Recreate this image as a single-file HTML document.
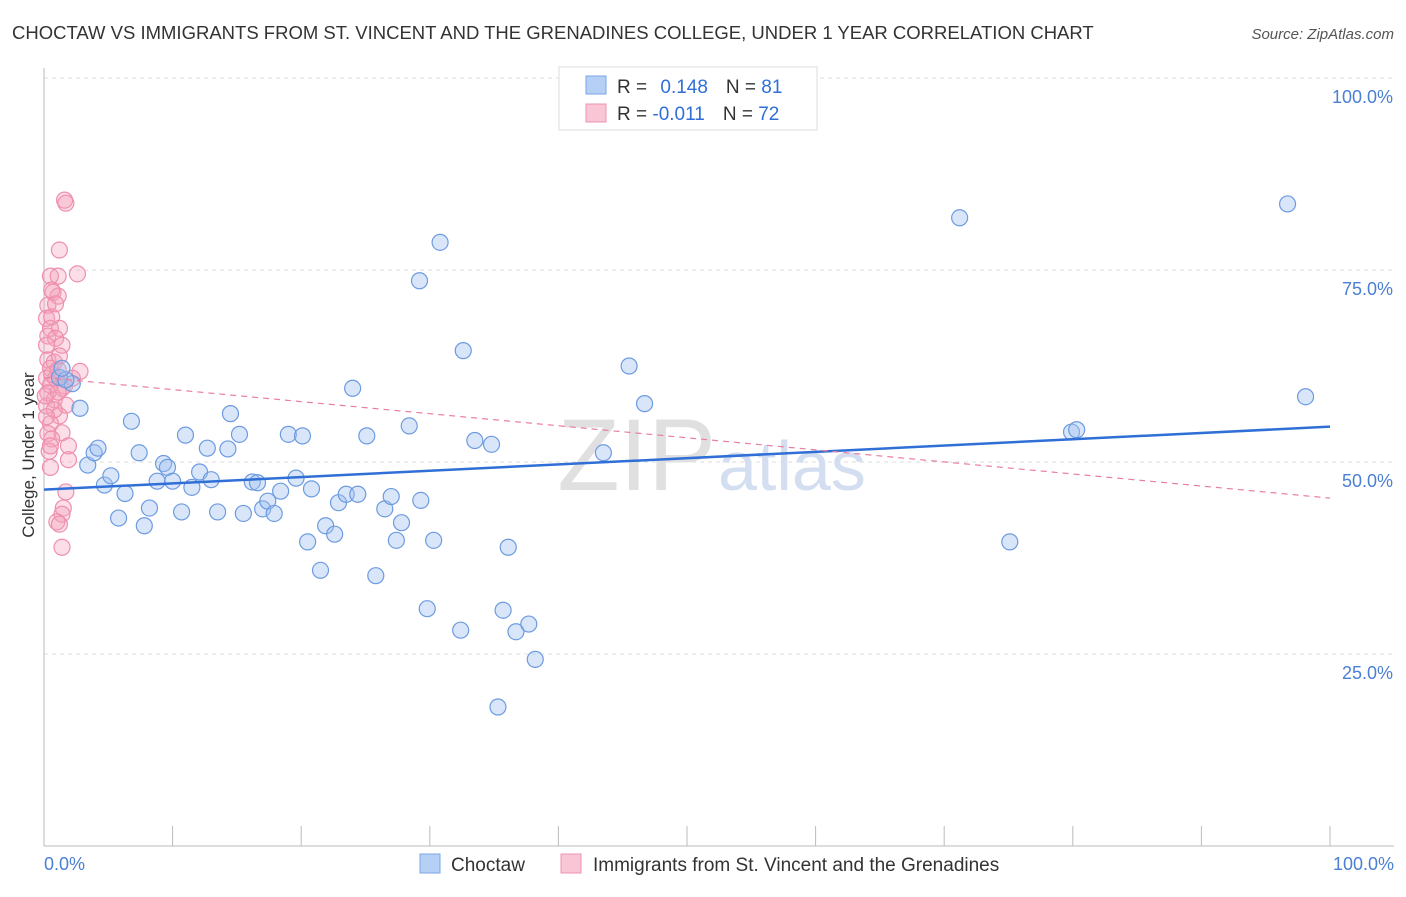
<!DOCTYPE html>
<html><head><meta charset="utf-8"><style>
body{margin:0;background:#fff;font-family:"Liberation Sans",sans-serif;}
svg text{font-family:"Liberation Sans",sans-serif;}
</style></head><body>
<svg id="c" width="1406" height="892">
<text x="12" y="39" font-size="18.5" fill="#333">CHOCTAW VS IMMIGRANTS FROM ST. VINCENT AND THE GRENADINES COLLEGE, UNDER 1 YEAR CORRELATION CHART</text>
<text x="1394" y="39" font-size="15" fill="#555" text-anchor="end" font-style="italic">Source: ZipAtlas.com</text>
<text transform="translate(34,455) rotate(-90)" font-size="17" fill="#333" text-anchor="middle">College, Under 1 year</text>
<g id="grid"></g>
<text x="716" y="490" font-size="102" fill="#e0e0e0" text-anchor="end" font-family="Liberation Serif">ZIP</text>
<text x="718" y="490" font-size="70" fill="#d3def1">atlas</text>
<g id="pts"></g>
<g>
<rect x="559" y="67" width="258" height="63" fill="#fff" stroke="#ddd"/>
<rect x="586" y="76" width="20" height="18" fill="#b6cff5" stroke="#7aa4e6"/>
<rect x="586" y="104" width="20" height="18" fill="#f9c6d5" stroke="#ee93af"/>
<text x="617" y="93" font-size="19" fill="#333">R = <tspan fill="#2f6fd6" dx="8">0.148</tspan><tspan dx="18" fill="#333">N = </tspan><tspan fill="#2f6fd6">81</tspan></text>
<text x="617" y="120" font-size="19" fill="#333">R = <tspan fill="#2f6fd6">-0.011</tspan><tspan dx="18" fill="#333">N = </tspan><tspan fill="#2f6fd6">72</tspan></text>
</g>
<g>
<rect x="420" y="854" width="20" height="19" fill="#b6cff5" stroke="#7aa4e6"/>
<text x="451" y="871" font-size="19" fill="#333">Choctaw</text>
<rect x="561" y="854" width="20" height="19" fill="#f9c6d5" stroke="#ee93af"/>
<text x="593" y="871" font-size="19" fill="#333">Immigrants from St. Vincent and the Grenadines</text>
</g>
<text x="44" y="870" font-size="18" fill="#4a7fd4">0.0%</text>
<text x="1394" y="870" font-size="18" fill="#4a7fd4" text-anchor="end">100.0%</text>
</svg>
<script>
const yTicks=[100,75,50,25];
const yTickLabels=["100.0%","75.0%","50.0%","25.0%"];
const blueX=[2.2,2.8,1.2,3.4,3.9,4.2,4.7,5.2,5.8,6.3,6.8,7.4,7.8,8.2,8.8,9.3,9.6,10.0,10.7,11.0,11.5,12.1,12.7,13.0,13.5,14.3,14.5,15.2,15.5,16.2,16.6,17.0,17.4,17.9,18.4,19.0,19.6,20.1,20.5,20.8,21.5,21.9,22.6,22.9,23.5,24.0,24.4,25.1,25.8,26.5,27.0,27.4,27.8,28.4,29.2,29.3,29.8,30.3,30.8,32.4,32.6,33.5,34.8,35.7,36.1,36.7,37.7,38.2,35.3,43.5,45.5,46.7,71.2,75.1,79.9,80.3,96.7,98.1,1.7,1.4];
const blueY=[60.2,57.0,61.0,49.6,51.2,51.8,47.0,48.2,42.7,45.9,55.3,51.2,41.7,44.0,47.5,49.8,49.3,47.5,43.5,53.5,46.7,48.7,51.8,47.7,43.5,51.7,56.3,53.6,43.3,47.4,47.3,43.9,44.9,43.3,46.2,53.6,47.9,53.4,39.6,46.5,35.9,41.7,40.6,44.7,45.8,59.6,45.8,53.4,35.2,43.9,45.5,39.8,42.1,54.7,73.6,45.0,30.9,39.8,78.6,28.1,64.5,52.8,52.3,30.7,38.9,27.9,28.9,24.3,18.1,51.2,62.5,57.6,81.8,39.6,53.9,54.2,83.6,58.5,60.7,62.2];
const pinkX=[1.6,1.7,1.2,0.5,1.1,2.6,0.7,1.1,0.3,0.2,0.5,1.2,0.3,0.9,1.4,0.3,0.8,0.5,2.8,0.2,0.9,2.2,0.5,1.4,0.3,0.8,1.7,0.2,1.2,0.5,0.3,1.4,0.6,1.9,0.4,1.9,0.5,1.7,1.5,1.4,1.0,1.2,1.4,0.6,1.1,0.1,0.8,0.2,1.2,0.6,1.6,1.1,0.2,0.5,0.9,0.6];
const pinkY=[84.1,83.7,77.6,74.2,74.2,74.5,72.1,71.6,70.4,68.7,67.4,67.4,66.4,66.1,65.2,63.3,63.0,62.2,61.8,60.9,60.9,60.9,60.0,59.6,59.0,58.1,57.4,57.3,56.0,55.0,53.7,53.8,53.0,52.1,51.4,50.3,49.3,46.1,44.0,43.2,42.2,41.9,38.9,61.4,62.0,58.6,56.8,65.2,63.8,68.9,59.9,59.1,55.9,52.1,70.6,72.4];
const blueTrend=[46.4,54.6];
const pinkTrend=[61.0,45.3];
const X=v=>44+v*12.86, Y=v=>846-v*7.68;
const NS='http://www.w3.org/2000/svg';
const grid=document.getElementById('grid'), pts=document.getElementById('pts');
function mk(t,a,p){const e=document.createElementNS(NS,t);for(const k in a)e.setAttribute(k,a[k]);p.appendChild(e);return e;}
yTicks.forEach((t,i)=>{
 const l=mk('line',{x1:44,x2:1394,y1:Y(t),y2:Y(t),stroke:'#ddd','stroke-dasharray':'4,4'},grid);
 
 
 const tx=mk('text',{x:1393,y:Y(t)+25,'font-size':18,fill:'#4a7fd4','text-anchor':'end'},grid);
 tx.textContent=yTickLabels[i];
 
 
});
const ax=mk('line',{x1:44,x2:1394,y1:846,y2:846,stroke:'#bbb'},grid);


const ay=mk('line',{x1:44,x2:44,y1:68,y2:846,stroke:'#bbb'},grid);


for(let i=0;i<=10;i++){const t=mk('line',{x1:X(i*10),x2:X(i*10),y1:826,y2:846,stroke:'#bbb'},grid);
 
 }
pinkX.forEach((x,i)=>{const c=mk('circle',{cx:X(x),cy:Y(pinkY[i]),r:8,fill:'rgba(244,160,185,0.35)',stroke:'#ef8fae','stroke-width':1.2},pts);
 
 });
blueX.forEach((x,i)=>{const c=mk('circle',{cx:X(x),cy:Y(blueY[i]),r:8,fill:'rgba(160,192,240,0.4)',stroke:'#6d9be0','stroke-width':1.2},pts);
 
 });
const bt=mk('line',{x1:X(0),y1:Y(blueTrend[0]),x2:X(100),y2:Y(blueTrend[1]),stroke:'#2f6fd6','stroke-width':2.5},pts);


const pt=mk('line',{x1:X(0),y1:Y(pinkTrend[0]),x2:X(100),y2:Y(pinkTrend[1]),stroke:'#ea7ea0','stroke-width':1.2,'stroke-dasharray':'6,5'},pts);


</script>
</body></html>
